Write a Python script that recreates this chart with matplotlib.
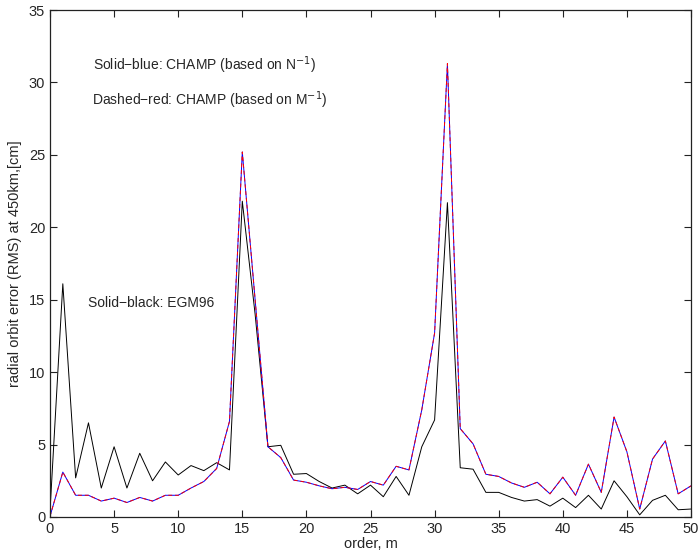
import matplotlib
matplotlib.use("Agg")
import matplotlib.pyplot as plt
import numpy as np

plt.rcParams['font.family'] = ['Liberation Sans', 'DejaVu Sans']

order = list(range(51))

egm96 = [0.4, 16.1, 2.7, 6.5, 2.0, 4.85, 2.0, 4.4, 2.5, 3.8,
         2.9, 3.55, 3.2, 3.75, 3.25, 21.8, 14.0, 4.85, 4.95, 2.95,
         3.0, 2.45, 2.0, 2.2, 1.6, 2.2, 1.4, 2.8, 1.5, 4.85,
         6.7, 21.7, 3.4, 3.3, 1.7, 1.7, 1.35, 1.1, 1.2, 0.75,
         1.3, 0.65, 1.5, 0.55, 2.5, 1.4, 0.15, 1.15, 1.5, 0.5,
         0.55]

champ_n = [0.05, 3.1, 1.5, 1.5, 1.1, 1.3, 1.0, 1.35, 1.1, 1.5,
           1.5, 2.0, 2.45, 3.35, 6.6, 25.2, 15.0, 4.85, 4.1, 2.55,
           2.4, 2.15, 1.95, 2.05, 1.9, 2.45, 2.2, 3.5, 3.25, 7.4,
           12.7, 31.3, 6.1, 5.05, 2.95, 2.8, 2.35, 2.05, 2.4, 1.6,
           2.75, 1.5, 3.65, 1.7, 6.9, 4.5, 0.55, 4.0, 5.25, 1.6,
           2.15]

champ_m = [0.05, 3.1, 1.5, 1.5, 1.1, 1.3, 1.0, 1.35, 1.1, 1.5,
           1.5, 2.0, 2.45, 3.35, 6.6, 25.2, 15.0, 4.85, 4.1, 2.55,
           2.4, 2.15, 1.95, 2.05, 1.9, 2.45, 2.2, 3.5, 3.25, 7.4,
           12.7, 31.3, 6.1, 5.05, 2.95, 2.8, 2.35, 2.05, 2.4, 1.6,
           2.75, 1.5, 3.65, 1.7, 6.9, 4.5, 0.55, 4.0, 5.25, 1.6,
           2.15]

xticks = [0, 5, 10, 15, 20, 25, 30, 35, 40, 45, 50]
yticks = [0, 5, 10, 15, 20, 25, 30, 35]

txt = '#262626'

fig = plt.figure(figsize=(6.98, 5.56), dpi=100)
ax = fig.add_axes([50/698, 1-517/556, 641/698, 507/556])

ax.plot(order, egm96, color='black', lw=0.7)
ax.plot(order, champ_n, color='blue', lw=0.7)
ax.plot(order, champ_m, color='red', lw=0.7, ls=(0, (4, 3)))

ax.set_xlim(0, 50)
ax.set_ylim(0, 35)
ax.set_xticks(xticks)
ax.set_yticks(yticks)
ax.tick_params(direction='in', top=True, right=True, labelsize=10.5, length=5,
               width=0.8, colors='#222222', labelcolor=txt)
for s in ax.spines.values():
    s.set_linewidth(0.9)
    s.set_color('#222222')

ax.set_xlabel('order, m', fontsize=10.5, labelpad=1, color=txt)
ax.set_ylabel('radial orbit error (RMS) at 450km,[cm]', fontsize=10.5, labelpad=5, color=txt)

ax.text(3.35, 31.2, 'Solid\u2212blue: CHAMP (based on N$^{-1}$)', fontsize=10,
        va='center', ha='left', color=txt)
ax.text(3.3, 28.8, 'Dashed\u2212red: CHAMP (based on M$^{-1}$)', fontsize=10,
        va='center', ha='left', color=txt)
ax.text(2.95, 14.8, 'Solid\u2212black: EGM96', fontsize=10, va='center', ha='left', color=txt)

fig.savefig('out.png', dpi=100)
